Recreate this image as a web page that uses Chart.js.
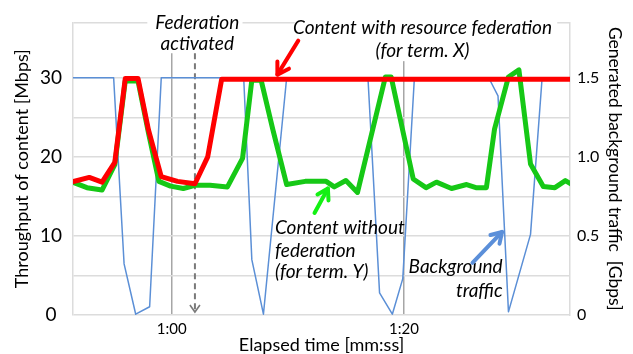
<!DOCTYPE html>
<html>
<head>
<meta charset="utf-8">
<script src="https://cdn.jsdelivr.net/npm/chart.js@4.4.1/dist/chart.umd.min.js"></script>
<style>
html, body { margin: 0; padding: 0; background: #fff; }
</style>
</head>
<body>
<canvas id="chart" width="633" height="354"></canvas>
<script>
// elapsed time in seconds, throughput in Mbps
const redTime   = [51.3, 52.9, 54.0, 55.1, 56.0, 57.1, 58.0, 59.1, 60.5, 62.0, 63.1, 64.3, 94.6];
const redMbps   = [16.8, 17.4, 16.8, 19.3, 29.9, 29.9, 23.4, 17.5, 16.9, 16.6, 20.0, 29.8, 29.8];

const greenTime = [51.3, 52.7, 54.0, 55.1, 56.0, 57.1, 58.0, 58.9, 59.9, 61.0, 62.0, 63.3, 64.8,
                   66.1, 66.9, 67.7, 68.7, 69.9, 71.5, 73.3, 74.0, 75.0, 76.0, 78.4, 78.9, 80.8,
                   81.9, 82.8, 84.1, 85.4, 86.2, 87.1, 87.8, 89.0, 89.9, 90.9, 92.0, 93.0, 93.9, 94.6];
const greenMbps = [16.9, 16.1, 15.8, 19.0, 29.6, 29.6, 23.0, 16.9, 16.3, 16.0, 16.4, 16.4, 16.2,
                   19.8, 29.7, 29.7, 23.5, 16.5, 16.9, 16.9, 16.2, 17.0, 15.5, 30.1, 30.1, 17.2,
                   16.1, 16.8, 16.0, 16.5, 16.1, 16.1, 23.5, 30.1, 31.0, 19.1, 16.25, 16.1, 17.0, 16.4];

// background traffic in Gbps (right axis)
const blueTime  = [51.0, 55.0, 55.9, 56.9, 58.1, 59.1, 66.2, 66.9, 67.9, 69.9, 76.9, 77.9, 79.0,
                   79.9, 80.9, 87.3, 88.1, 89.0, 90.9, 91.9, 94.6];
const blueGbps  = [1.5, 1.5, 0.323, 0.005, 0.052, 1.5, 1.5, 0.35, 0.005, 1.5, 1.5, 0.14, 0.005,
                   0.23, 1.5, 1.5, 1.386, 0.02, 0.51, 1.5, 1.5];

const leftTicks  = [0, 5, 10, 15, 20, 25, 30, 37];
const rightTicks = [0, 0.5, 1.0, 1.5];
const timeTicks  = [60, 80];

const FONT = 'Lato, "Liberation Sans", sans-serif';

function pts(t, v) { return t.map((x, i) => ({ x: x, y: v[i] })); }
function mmss(s) { return Math.floor(s / 60) + ':' + String(s % 60).padStart(2, '0'); }

function arrow(c, x1, y1, x2, y2, color, w, head) {
    c.strokeStyle = color;
    c.lineWidth = w;
    c.lineCap = 'round';
    c.lineJoin = 'round';
    c.beginPath();
    c.moveTo(x1, y1);
    c.lineTo(x2, y2);
    c.stroke();
    const a = Math.atan2(y2 - y1, x2 - x1);
    c.beginPath();
    c.moveTo(x2 - head * Math.cos(a - 0.55), y2 - head * Math.sin(a - 0.55));
    c.lineTo(x2, y2);
    c.lineTo(x2 - head * Math.cos(a + 0.55), y2 - head * Math.sin(a + 0.55));
    c.stroke();
}

const notes = {
    id: 'notes',
    beforeDatasetsDraw(chart) {
        const c = chart.ctx;
        const X = v => chart.scales.x.getPixelForValue(v);
        const Y = v => chart.scales.y.getPixelForValue(v);
        c.save();
        // white boxes behind the top captions
        c.fillStyle = '#fff';
        c.fillRect(X(57.9), 4, X(66.1) - X(57.9), Y(33.1) - 4);
        c.fillRect(X(70.6), 4, X(93.2) - X(70.6), Y(32.1) - 4);
        // federation activated marker
        c.strokeStyle = '#7a7a7a';
        c.lineWidth = 2;
        c.setLineDash([6, 4]);
        c.beginPath();
        c.moveTo(X(62), Y(33.1));
        c.lineTo(X(62), Y(0) - 2);
        c.stroke();
        c.setLineDash([]);
        c.lineWidth = 1.6;
        c.beginPath();
        c.moveTo(X(62) - 5, Y(0) - 10);
        c.lineTo(X(62), Y(0) - 3);
        c.lineTo(X(62) + 5, Y(0) - 10);
        c.stroke();
        c.restore();
    },
    afterDraw(chart) {
        const c = chart.ctx;
        const X = v => chart.scales.x.getPixelForValue(v);
        const Y = v => chart.scales.y.getPixelForValue(v);
        c.save();
        c.fillStyle = '#000';
        c.font = 'italic 19px ' + FONT;
        c.textBaseline = 'middle';
        c.textAlign = 'center';
        c.fillText('Federation', X(62.2), Y(37.0));
        c.fillText('activated', X(62.2), Y(34.25));
        c.fillText('Content with resource federation', X(81.6), Y(36.25));
        c.fillText('(for term. X)', X(81.6), Y(33.4));
        c.textAlign = 'left';
        c.fillText('Content without', X(68.9), Y(11.0));
        c.fillText('federation', X(68.9), Y(8.1));
        c.fillText('(for term. Y)', X(68.9), Y(5.4));
        c.textAlign = 'right';
        c.fillText('Background', X(88.5), Y(6.1));
        c.fillText('traffic', X(88.5), Y(3.1));

        arrow(c, X(70.9), Y(34.7), X(69.1), Y(30.4), '#ff0000', 4, 13);
        arrow(c, X(72.3), Y(12.9), X(73.45), Y(16.0), '#14f014', 4, 12);
        arrow(c, X(85.9), Y(6.6), X(88.45), Y(10.5), '#5b8fd9', 4, 12);
        c.restore();
    }
};

new Chart(document.getElementById('chart'), {
    type: 'line',
    data: {
        datasets: [
            {
                label: 'Content with resource federation',
                data: pts(redTime, redMbps),
                yAxisID: 'y',
                borderColor: '#ff0000',
                borderWidth: 5
            },
            {
                label: 'Content without federation',
                data: pts(greenTime, greenMbps),
                yAxisID: 'y',
                borderColor: 'rgb(22, 200, 22)',
                borderWidth: 5
            },
            {
                label: 'Background traffic',
                data: pts(blueTime, blueGbps),
                yAxisID: 'y1',
                borderColor: '#5b8fd6',
                borderWidth: 1.5
            }
        ]
    },
    options: {
        responsive: false,
        animation: false,
        devicePixelRatio: 1,
        layout: { padding: { top: 19, left: 0, right: 0, bottom: 0 } },
        elements: {
            point: { radius: 0 },
            line: { tension: 0, borderJoinStyle: 'round', borderCapStyle: 'round', fill: false }
        },
        plugins: { legend: { display: false }, tooltip: { enabled: false } },
        scales: {
            x: {
                type: 'linear',
                min: 51.5,
                max: 94.3,
                afterBuildTicks: s => { s.ticks = timeTicks.map(v => ({ value: v })); },
                afterFit: s => { s.height = 39; },
                ticks: {
                    autoSkip: false, maxRotation: 0, padding: 5, color: '#000',
                    font: { family: FONT, size: 15 },
                    callback: v => mmss(v)
                },
                grid: { color: '#a6a6a6', lineWidth: 1.5, drawTicks: false },
                border: { display: false },
                title: {
                    display: true, text: 'Elapsed time [mm:ss]', color: '#000',
                    font: { family: FONT, size: 18, lineHeight: 1 }, padding: 0
                }
            },
            y: {
                position: 'left',
                min: 0,
                max: 37,
                afterBuildTicks: s => { s.ticks = leftTicks.map(v => ({ value: v })); },
                afterFit: s => { s.width = 73; },
                ticks: {
                    autoSkip: false, padding: 11, crossAlign: 'center', color: '#000',
                    font: { family: FONT, size: 19 },
                    callback: v => (v % 10 === 0 ? String(v) : '')
                },
                grid: { color: '#dcdcdc', lineWidth: 1.5, drawTicks: false },
                border: { display: true, color: '#dcdcdc', width: 1.5 },
                title: {
                    display: true, text: 'Throughput of content [Mbps]', color: '#000',
                    font: { family: FONT, size: 18, lineHeight: 1 }, padding: { top: 13, bottom: 0 }
                }
            },
            y1: {
                position: 'right',
                min: 0,
                max: 1.85,
                afterBuildTicks: s => { s.ticks = rightTicks.map(v => ({ value: v })); },
                afterFit: s => { s.width = 63; },
                ticks: {
                    autoSkip: false, padding: 7, color: '#000',
                    font: { family: FONT, size: 16 },
                    callback: v => (v === 0 ? '0' : v.toFixed(1))
                },
                grid: { drawOnChartArea: false, drawTicks: false },
                border: { display: true, color: '#dcdcdc', width: 1.5 },
                title: {
                    display: true, text: 'Generated background traffic  [Gbps]', color: '#000',
                    font: { family: FONT, size: 17.5, lineHeight: 1 }, padding: { top: 10, bottom: 0 }
                }
            }
        }
    },
    plugins: [notes]
});
</script>
</body>
</html>
